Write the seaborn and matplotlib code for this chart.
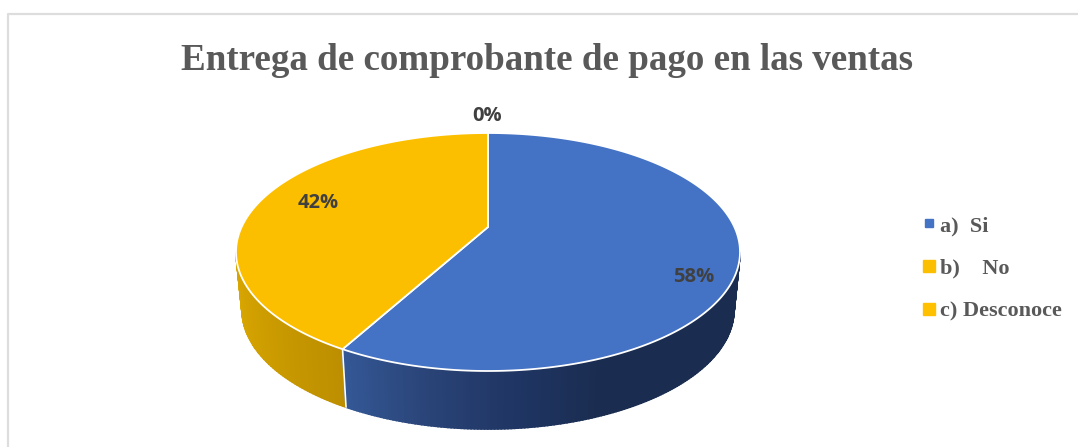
import numpy as np
import matplotlib
matplotlib.use("Agg")
import matplotlib.pyplot as plt
from matplotlib.lines import Line2D
import seaborn as sns

# chart data
title = "Entrega de comprobante de pago en las ventas"
categories = ["a)  Si", "b)    No", "c) Desconoce"]
values = [58, 42, 0]
top_colors = ["#4472C4", "#FCBF00", "#FFC000"]

W, H = 1078, 447
TILT = 0.21       # how far the perspective pushes the pie centre back
DEPTH = 58 / 119  # wall height
SHRINK = 0.976    # lower rim is a bit narrower


def project(x, y):
    # perspective view of the unit disk, keeps the rim on the circle
    d = 1 + TILT * y
    return x * np.sqrt(1 - TILT ** 2) / d, (y + TILT) / d


sns.set_theme(style="white")
fig = plt.figure(figsize=(W / 100, H / 100), dpi=100, facecolor="white")
ax = fig.add_axes([0, 0, 1, 1])

wedges, _ = ax.pie(values, startangle=90, counterclock=False, radius=1)
ax.set_aspect("auto")
ax.set_xlim(-488 / 252, (W - 488) / 252)
ax.set_ylim((252 - H) / 119, 252 / 119)

# wall under the pie, one thin strip at a time
mid = np.radians(90 - 360 * values[0] / sum(values))
bx, by = project(np.cos(mid), np.sin(mid))
split = np.degrees(np.arctan2(by, bx)) % 360
wall_yellow = sns.blend_palette(["#DDAA00", "#BD8F00"], 60)
wall_blue = sns.blend_palette(["#345896", "#2A4478", "#1F3563", "#1A2D50", "#1A2D50", "#1A2D50", "#1A2D50"], 160)
edges = np.concatenate([np.linspace(180, split, 61), np.linspace(split, 360, 161)[1:]])
strip_colors = list(wall_yellow) + list(wall_blue)
for a0, a1, col in zip(edges[:-1], edges[1:], strip_colors):
    t = np.radians(np.linspace(a0, a1, 4))
    xs = np.cos(t)
    ys = np.sin(t)
    ax.fill(np.r_[xs, xs[::-1] * SHRINK], np.r_[ys, ys[::-1] - DEPTH],
            color=col, lw=1.2, zorder=1)

t = np.radians(split)
ax.plot([np.cos(t), np.cos(t) * SHRINK], [np.sin(t), np.sin(t) - DEPTH],
        color="white", lw=1.2, zorder=2)

# top of the pie, using the angles from ax.pie
for w, col, v in zip(wedges, top_colors, values):
    w.set_visible(False)
    if v == 0:
        continue
    t = np.radians(np.linspace(w.theta1, w.theta2, 300))
    px, py = project(np.r_[0, np.cos(t)], np.r_[0, np.sin(t)])
    ax.fill(px, py, facecolor=col, edgecolor="white", lw=1.3, zorder=3, joinstyle="miter")

# percent labels
for v, (lx, ly) in zip(values, [(694, 277), (318, 203), (487, 116)]):
    fig.text(lx / W, 1 - ly / H, f"{v}%", ha="center", va="center",
             family="Open Sans", fontweight="bold", fontsize=14.5, color="#404040")

fig.text(547 / W, 1 - 61 / H, title, ha="center", va="center", family="Liberation Serif",
         fontweight="bold", fontsize=26.65, color="#595959")

handles = [
    Line2D([], [], ls="", marker="s", ms=ms, color=c)
    for ms, c in zip([5.8, 9.2, 9.2], top_colors)
]
ax.legend(handles, categories, loc="center left", bbox_to_anchor=(917.5 / W, 1 - 268.5 / H),
          bbox_transform=fig.transFigure, frameon=False, handlelength=1.0, handletextpad=0.02,
          labelspacing=1.0, borderpad=0, borderaxespad=0,
          prop={"family": "Liberation Serif", "weight": "bold", "size": 16}, labelcolor="#595959")

# chart frame, left and top only reach the picture
fig.add_artist(Line2D([7.5 / W, 7.5 / W, 1], [0, 1 - 14 / H, 1 - 14 / H], color="#DDDDDD", lw=1.6))

fig.savefig("out.png", dpi=100)
